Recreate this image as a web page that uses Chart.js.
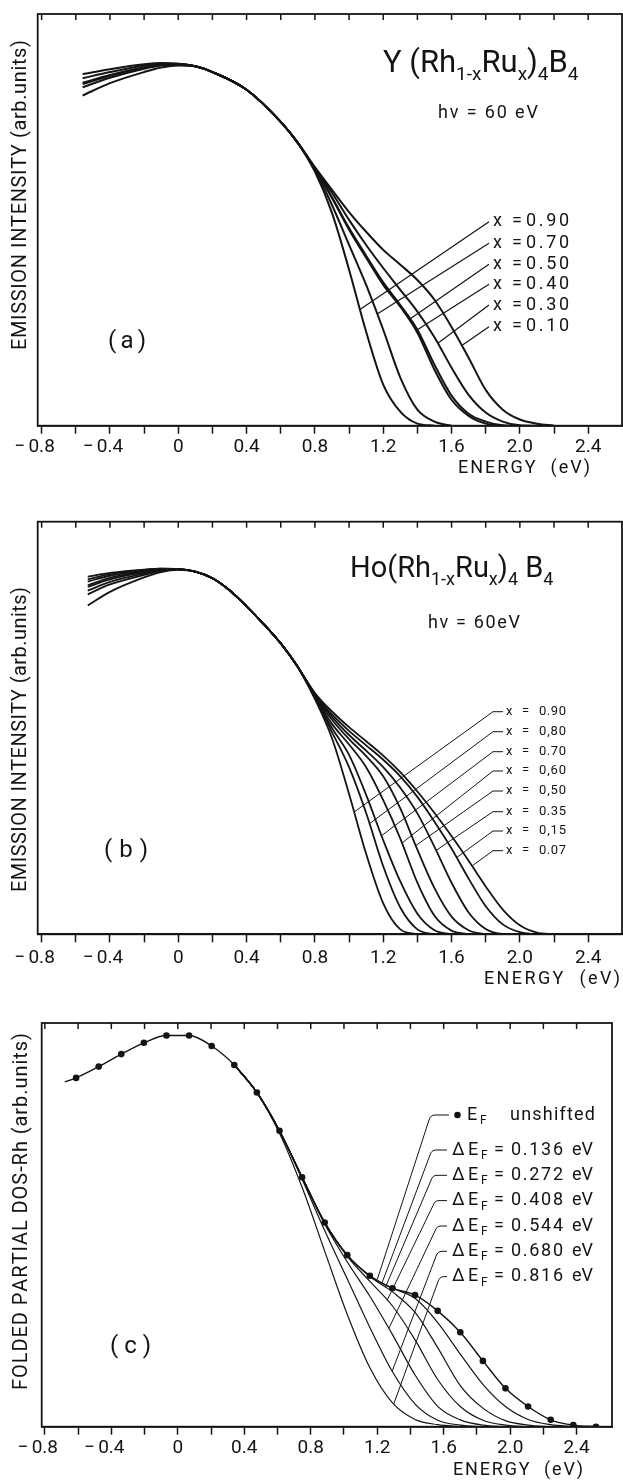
<!DOCTYPE html>
<html>
<head>
<meta charset="utf-8">
<script src="https://cdn.jsdelivr.net/npm/chart.js@4.4.1/dist/chart.umd.min.js"></script>
<style>
  html, body { margin: 0; padding: 0; background: #fff; }
  #wrap { position: relative; width: 623px; height: 1481px; background: #fff; }
  canvas { position: absolute; left: 0; }
</style>
</head>
<body>
<div id="wrap">
  <canvas id="chartA" width="623" height="490" style="top:0px"></canvas>
  <canvas id="chartB" width="623" height="500" style="top:490px"></canvas>
  <canvas id="chartC" width="623" height="491" style="top:990px"></canvas>
</div>
<script>
// ===== Shared axis ticks =====
const energyTicks = [-0.8, -0.6, -0.4, -0.2, 0, 0.2, 0.4, 0.6, 0.8, 1.0, 1.2, 1.4, 1.6, 1.8, 2.0, 2.2, 2.4];
const energyTickLabels = ['\u22120.8', '', '\u22120.4', '', '0', '', '0.4', '', '0.8', '', '1.2', '', '1.6', '', '2.0', '', '2.4'];

// ===== (a) Y(Rh1-xRux)4B4 =====
const energyA = [-0.56, -0.4, -0.2, -0.1, 0, 0.1, 0.2, 0.4, 0.6, 0.7, 0.8, 0.9, 1.0, 1.1, 1.2, 1.3, 1.4, 1.5, 1.6, 1.7, 1.8, 1.9, 2.0, 2.1, 2.2];
const compositionA = ['0.90', '0.70', '0.50', '0.40', '0.30', '0.10'];
const intensityA090 = [85.4, 86.6, 87.8, 88.1, 87.9, 87.3, 85.9, 81.6, 73.8, 68.7, 61.7, 51.7, 37.9, 22.8, 10.0, 3.4, 0.5, 0];
const intensityA070 = [84.4, 85.9, 87.5, 88.0, 87.9, 87.3, 85.9, 81.6, 73.8, 68.7, 62.1, 53.6, 43.9, 34.2, 23.3, 11.7, 3.9, 1.0, 0];
const intensityA050 = [83.3, 85.2, 87.1, 87.8, 87.8, 87.3, 85.9, 81.6, 73.8, 68.7, 62.4, 55.3, 47.6, 40.8, 34.2, 28.9, 22.6, 13.6, 6.3, 2.4, 0.5, 0];
const intensityA040 = [83.0, 85.0, 87.0, 87.7, 87.8, 87.3, 85.9, 81.6, 73.8, 68.7, 62.4, 55.5, 48.0, 41.3, 34.8, 29.3, 23.3, 14.8, 7.3, 2.9, 1.0, 0.1, 0];
const intensityA030 = [82.2, 84.5, 86.7, 87.5, 87.7, 87.3, 85.9, 81.6, 73.8, 68.7, 62.6, 56.6, 50.0, 43.9, 38.3, 33.0, 27.7, 21.5, 14.1, 7.5, 3.2, 1.0, 0.1, 0];
const intensityA010 = [80.2, 83.2, 85.9, 87.0, 87.5, 87.3, 85.9, 81.6, 73.8, 68.7, 62.8, 57.3, 51.9, 47.1, 42.7, 39.1, 35.4, 30.6, 24.0, 16.5, 8.7, 3.9, 1.5, 0.5, 0];
const leaderEnergyA = [1.064, 1.165, 1.35, 1.40, 1.52, 1.66];

// ===== (b) Ho(Rh1-xRux)4B4 =====
const energyB = [-0.53, -0.4, -0.2, -0.1, 0, 0.1, 0.2, 0.3, 0.4, 0.5, 0.6, 0.7, 0.8, 0.9, 1.0, 1.1, 1.2, 1.3, 1.4, 1.5, 1.6, 1.7, 1.8, 1.9, 2.0, 2.1, 2.2];
const compositionB = ['0.90', '0,80', '0.70', '0,60', '0,50', '0.35', '0,15', '0.07'];
const intensityB090 = [86.7, 87.6, 88.4, 88.6, 88.5, 87.9, 86.3, 83.4, 79.5, 75.2, 70.5, 64.8, 57.0, 47.5, 34.0, 19.5, 7.5, 1.2, 0];
const intensityB080 = [86.0, 87.3, 88.3, 88.6, 88.5, 87.9, 86.3, 83.4, 79.5, 75.2, 70.5, 64.8, 57.3, 49.0, 40.5, 29.4, 16.5, 6.5, 1.2, 0];
const intensityB070 = [85.5, 86.9, 88.1, 88.5, 88.5, 87.9, 86.3, 83.4, 79.5, 75.2, 70.5, 64.8, 57.5, 50.0, 43.5, 33.8, 22.8, 12.8, 5.0, 1.0, 0];
const intensityB060 = [84.6, 86.4, 87.9, 88.4, 88.5, 87.9, 86.3, 83.4, 79.5, 75.2, 70.5, 64.8, 57.7, 51.0, 46.0, 40.5, 32.5, 23.2, 12.5, 4.5, 0.9, 0];
const intensityB050 = [84.2, 86.0, 87.7, 88.3, 88.5, 87.9, 86.3, 83.4, 79.5, 75.2, 70.5, 64.8, 57.9, 52.0, 47.3, 43.2, 38.3, 30.5, 20.5, 11.2, 4.3, 1.0, 0];
const intensityB035 = [83.3, 85.4, 87.4, 88.2, 88.5, 87.9, 86.3, 83.4, 79.5, 75.2, 70.5, 64.8, 58.1, 52.7, 48.3, 44.5, 40.5, 35.5, 29.3, 21.2, 12.5, 5.3, 1.3, 0.1, 0];
const intensityB015 = [82.4, 84.8, 87.1, 88.1, 88.4, 87.9, 86.3, 83.4, 79.5, 75.2, 70.5, 64.8, 58.3, 53.3, 49.3, 45.8, 42.3, 38.3, 33.3, 27.3, 20.8, 13.5, 6.8, 2.4, 0.5, 0];
const intensityB007 = [79.7, 83.0, 86.5, 87.8, 88.3, 87.9, 86.3, 83.4, 79.5, 75.2, 70.5, 64.8, 58.5, 54.0, 50.2, 46.8, 43.3, 39.3, 34.6, 29.4, 23.8, 17.8, 11.6, 6.0, 2.2, 0.4, 0];
const leaderEnergyB = [1.03, 1.12, 1.19, 1.31, 1.39, 1.51, 1.63, 1.72];

// ===== (c) folded partial DOS-Rh =====
const energyC = [-0.68, -0.612, -0.476, -0.34, -0.204, -0.068, 0.068, 0.204, 0.34, 0.476, 0.612, 0.748, 0.884, 1.02, 1.156, 1.292, 1.428, 1.564, 1.70, 1.836, 1.972, 2.108, 2.244, 2.38, 2.516];
const dosUnshifted = [85.4, 86.4, 89.2, 92.3, 95.1, 96.9, 96.9, 94.3, 89.6, 82.8, 73.3, 61.8, 50.6, 42.5, 37.4, 34.3, 32.6, 28.7, 23.4, 16.3, 9.5, 5.0, 1.7, 0.4, 0];
const shiftLabels = ['0.136', '0.272', '0.408', '0.544', '0.680', '0.816'];
const dosShift136 = [null, null, null, null, null, null, null, null, 89.6, 82.8, 73.3, 61.8, 50.6, 42.5, 37.4, 34.3, 31.8, 25.8, 18.0, 10.5, 5.0, 1.8, 0.5, 0];
const dosShift272 = [null, null, null, null, null, null, null, null, 89.6, 82.8, 73.3, 61.8, 50.6, 42.5, 37.2, 33.4, 28.3, 19.6, 10.2, 4.6, 1.5, 0.4, 0];
const dosShift408 = [null, null, null, null, null, null, null, null, 89.6, 82.8, 73.3, 61.8, 50.5, 42.2, 36.0, 29.9, 21.5, 11.7, 5.0, 1.6, 0.4, 0];
const dosShift544 = [null, null, null, null, null, null, null, null, 89.6, 82.8, 73.3, 61.7, 50.2, 40.8, 32.3, 22.8, 12.8, 5.05, 1.7, 0.4, 0];
const dosShift680 = [null, null, null, null, null, null, null, null, 89.6, 82.8, 73.2, 61.3, 48.6, 36.6, 24.6, 13.6, 5.6, 1.6, 0.4, 0];
const dosShift816 = [null, null, null, null, null, null, null, null, 89.6, 82.7, 72.7, 59.3, 43.5, 27.8, 14.6, 5.9, 1.8, 0.5, 0];
const leaderEnergyUnshifted = 1.20;
const leaderEnergyC = [1.23, 1.25, 1.26, 1.27, 1.29, 1.30];

const INK = '#141414';
const W = 623;
const FONT = "Roboto, 'DejaVu Sans', sans-serif";

Chart.defaults.font.family = FONT;
Chart.defaults.color = INK;

// ===== Helpers =====
function curvePoints(grid, vals) {
  return vals.map((v, i) => ({ x: grid[i], y: v })).filter(p => p.y !== null);
}

function curveDataset(grid, vals, width, extra) {
  return Object.assign({
    data: curvePoints(grid, vals),
    borderColor: INK,
    borderWidth: width,
    pointRadius: 0,
    cubicInterpolationMode: 'monotone',
    fill: false
  }, extra || {});
}

function valueAt(grid, vals, e) {
  for (let i = 0; i < vals.length - 1; i++) {
    const a = vals[i], b = vals[i + 1];
    if (a === null || b === null) continue;
    if (e >= grid[i] && e <= grid[i + 1]) {
      const t = (e - grid[i]) / (grid[i + 1] - grid[i]);
      return a + t * (b - a);
    }
  }
  return null;
}

function font(size) { return size + 'px ' + FONT; }

// draw text char by char so it fills a given width (typewriter spacing)
function spaced(ctx, text, x, y, width) {
  const chars = [...text];
  const widths = chars.map(c => ctx.measureText(c).width);
  const natural = widths.reduce((s, w) => s + w, 0);
  const gap = width && chars.length > 1 ? (width - natural) / (chars.length - 1) : 0;
  let cx = x;
  chars.forEach((c, i) => { ctx.fillText(c, cx, y); cx += widths[i] + gap; });
}

function rich(ctx, parts, x, baseline) {
  ctx.textBaseline = 'alphabetic';
  let cx = x;
  parts.forEach(p => {
    ctx.font = font(p.s);
    ctx.fillText(p.t, cx, baseline + (p.dy || 0));
    cx += ctx.measureText(p.t).width;
  });
}

function verticalTitle(ctx, text, cx, cy, len, size) {
  ctx.save();
  ctx.translate(cx, cy);
  ctx.rotate(-Math.PI / 2);
  ctx.font = font(size);
  ctx.textBaseline = 'middle';
  spaced(ctx, text, -len / 2, 0, len);
  ctx.restore();
}

function drawFrame(chart, ctx, labelDy) {
  const { left, right, top, bottom } = chart.chartArea;
  const xs = chart.scales.x;
  ctx.strokeStyle = INK;
  ctx.lineWidth = 1.8;
  ctx.strokeRect(left, top, right - left, bottom - top);
  ctx.lineWidth = 1.5;
  energyTicks.forEach(v => {
    const px = xs.getPixelForValue(v);
    ctx.beginPath();
    ctx.moveTo(px, top);
    ctx.lineTo(px, top + 6);
    ctx.stroke();
  });
  // tick labels: number centred on the tick, minus sign set off to the left
  ctx.font = font(19);
  ctx.textBaseline = 'middle';
  const ly = bottom + labelDy;
  energyTicks.forEach((v, i) => {
    const label = energyTickLabels[i];
    if (!label) return;
    const px = xs.getPixelForValue(v);
    const neg = label[0] === '\u2212';
    const num = neg ? label.slice(1) : label;
    const w = ctx.measureText(num).width;
    ctx.textAlign = 'left';
    ctx.fillText(num, px - w / 2, ly);
    if (neg) {
      ctx.textAlign = 'right';
      ctx.fillText('\u2212', px - w / 2 - 3, ly);
    }
  });
  ctx.textAlign = 'left';
}

function curvePixel(chart, grid, vals, e) {
  return [chart.scales.x.getPixelForValue(e), chart.scales.y.getPixelForValue(valueAt(grid, vals, e))];
}

function panelOptions(frame, canvasH) {
  return {
    responsive: false,
    animation: false,
    devicePixelRatio: 1,
    events: [],
    layout: {
      autoPadding: false,
      padding: { left: frame.left, right: W - frame.right, top: frame.top, bottom: canvasH - frame.bottom - 30 }
    },
    plugins: { legend: { display: false }, tooltip: { enabled: false } },
    scales: {
      x: {
        type: 'linear',
        min: frame.min,
        max: frame.max,
        afterBuildTicks: s => { s.ticks = energyTicks.map(v => ({ value: v })); },
        afterFit: s => { s.height = 30; },
        ticks: { display: false, autoSkip: false, maxRotation: 0 },
        grid: { drawOnChartArea: false, drawTicks: true, tickLength: 8, tickWidth: 1.5, tickColor: INK },
        border: { display: true, color: INK, width: 1.8 }
      },
      y: { type: 'linear', display: false, min: 0, max: 100 }
    }
  };
}

function deco(labelDy, draw) {
  return {
    id: 'deco',
    afterDraw(chart) {
      const ctx = chart.ctx;
      ctx.save();
      ctx.fillStyle = INK;
      ctx.strokeStyle = INK;
      ctx.textAlign = 'left';
      drawFrame(chart, ctx, labelDy);
      draw(chart, ctx);
      ctx.restore();
    }
  };
}

// ===== Panel (a) =====
const curvesA = [intensityA090, intensityA070, intensityA050, intensityA040, intensityA030, intensityA010];
const rowsA = [221.7, 243.3, 264.3, 284.3, 305, 326.7];

new Chart(document.getElementById('chartA'), {
  type: 'line',
  data: { datasets: curvesA.map(c => curveDataset(energyA, c, 2)) },
  options: panelOptions({ left: 37.7, right: 622, top: 14, bottom: 425.7, min: -0.823, max: 2.598 }, 490),
  plugins: [deco(21.3, (chart, ctx) => {
    verticalTitle(ctx, 'EMISSION INTENSITY (arb.units)', 21, 195, 310, 20);
    ctx.textBaseline = 'middle';
    ctx.font = font(18);
    spaced(ctx, 'ENERGY  (eV)', 458, 468, 132);
    rich(ctx, [
      { t: 'Y (Rh', s: 31 }, { t: '1-x', s: 19, dy: 8 }, { t: 'Ru', s: 31 }, { t: 'x', s: 19, dy: 8 },
      { t: ')', s: 31 }, { t: '4', s: 19, dy: 8 }, { t: 'B', s: 31 }, { t: '4', s: 19, dy: 8 }
    ], 383, 72);
    ctx.textBaseline = 'middle';
    ctx.font = font(18);
    spaced(ctx, 'h\u03bd = 60 eV', 438, 113, 100);
    ctx.font = font(24);
    spaced(ctx, '(a)', 108, 342, 38);

    ctx.lineWidth = 1.2;
    curvesA.forEach((c, i) => {
      const [px, py] = curvePixel(chart, energyA, c, leaderEnergyA[i]);
      ctx.beginPath();
      ctx.moveTo(px, py);
      ctx.lineTo(489, rowsA[i]);
      ctx.stroke();
      ctx.font = font(18);
      ctx.textBaseline = 'middle';
      ctx.fillText('x', 493, rowsA[i]);
      ctx.fillText('=', 512, rowsA[i]);
      spaced(ctx, compositionA[i], 526, rowsA[i], 43);
    });
  })]
});

// ===== Panel (b) =====
const curvesB = [intensityB090, intensityB080, intensityB070, intensityB060, intensityB050, intensityB035, intensityB015, intensityB007];
const rowsB = [221.7, 241.7, 261.7, 281, 301, 321.7, 341, 360.7];

new Chart(document.getElementById('chartB'), {
  type: 'line',
  data: { datasets: curvesB.map(c => curveDataset(energyB, c, 1.8)) },
  options: panelOptions({ left: 37.7, right: 622, top: 31.7, bottom: 444.3, min: -0.823, max: 2.598 }, 500),
  plugins: [deco(23.7, (chart, ctx) => {
    verticalTitle(ctx, 'EMISSION INTENSITY (arb.units)', 21, 249.5, 305, 20);
    ctx.textBaseline = 'middle';
    ctx.font = font(18);
    spaced(ctx, 'ENERGY  (eV)', 484, 489, 136);
    rich(ctx, [
      { t: 'Ho(Rh', s: 29 }, { t: '1-x', s: 18, dy: 8 }, { t: 'Ru', s: 29 }, { t: 'x', s: 18, dy: 8 },
      { t: ')', s: 29 }, { t: '4', s: 18, dy: 8 }, { t: ' B', s: 29 }, { t: '4', s: 18, dy: 8 }
    ], 350, 86.7);
    ctx.textBaseline = 'middle';
    ctx.font = font(18);
    spaced(ctx, 'h\u03bd = 60eV', 428, 133.5, 92);
    ctx.font = font(24);
    spaced(ctx, '( b )', 104, 361, 44);

    ctx.lineWidth = 1;
    curvesB.forEach((c, i) => {
      const [px, py] = curvePixel(chart, energyB, c, leaderEnergyB[i]);
      ctx.beginPath();
      ctx.moveTo(px, py);
      ctx.lineTo(493, rowsB[i]);
      ctx.lineTo(503, rowsB[i]);
      ctx.stroke();
      ctx.font = font(13);
      ctx.textBaseline = 'middle';
      ctx.fillText('x', 506, rowsB[i]);
      ctx.fillText('=', 522, rowsB[i]);
      spaced(ctx, compositionB[i], 539, rowsB[i], 27);
    });
  })]
});

// ===== Panel (c) =====
const curvesC = [dosShift136, dosShift272, dosShift408, dosShift544, dosShift680, dosShift816];
const rowsC = [160, 185.3, 210.6, 236, 261.3, 286.6];
const cornersC = [430, 431, 433, 435, 436, 438];

function subE(ctx, x, y) {
  ctx.font = font(18);
  ctx.fillText('E', x, y);
  ctx.font = font(12);
  ctx.fillText('F', x + 13, y + 6);
}

new Chart(document.getElementById('chartC'), {
  type: 'line',
  data: {
    datasets: [
      curveDataset(energyC, dosUnshifted, 1.4, {
        pointRadius: energyC.map((e, i) => (i === 0 ? 0 : 3.3)),
        pointBackgroundColor: INK,
        pointBorderWidth: 0
      })
    ].concat(curvesC.map(c => curveDataset(energyC, c, 1.2)))
  },
  options: panelOptions({ left: 41.7, right: 612, top: 33, bottom: 436.7, min: -0.819, max: 2.613 }, 491),
  plugins: [deco(21.3, (chart, ctx) => {
    verticalTitle(ctx, 'FOLDED PARTIAL DOS-Rh (arb.units)', 22, 221.5, 357, 20);
    ctx.textBaseline = 'middle';
    ctx.font = font(18);
    spaced(ctx, 'ENERGY  (eV)', 453, 480, 130);
    ctx.font = font(24);
    spaced(ctx, '(c)', 110, 357, 41);

    ctx.lineWidth = 1;
    // unshifted label
    const [ux, uy] = curvePixel(chart, energyC, dosUnshifted, leaderEnergyUnshifted);
    ctx.beginPath();
    ctx.moveTo(ux, uy);
    ctx.lineTo(429, 125 + 5);
    ctx.quadraticCurveTo(430.5, 125, 435, 125);
    ctx.lineTo(449, 125);
    ctx.stroke();
    ctx.beginPath();
    ctx.arc(457.5, 125, 3.3, 0, Math.PI * 2);
    ctx.fill();
    ctx.textBaseline = 'middle';
    subE(ctx, 467, 125);
    ctx.font = font(18);
    spaced(ctx, 'unshifted', 510, 125, 85);

    curvesC.forEach((c, i) => {
      const [px, py] = curvePixel(chart, energyC, c, leaderEnergyC[i]);
      const ry = rowsC[i], cx = cornersC[i];
      ctx.beginPath();
      ctx.moveTo(px, py);
      ctx.lineTo(cx, ry + 5);
      ctx.quadraticCurveTo(cx + 1.5, ry, cx + 6, ry);
      ctx.lineTo(447, ry);
      ctx.stroke();
      ctx.textBaseline = 'middle';
      ctx.font = font(18);
      ctx.fillText('\u0394', 452, ry);
      subE(ctx, 468, ry);
      ctx.font = font(18);
      ctx.fillText('=', 494, ry);
      spaced(ctx, shiftLabels[i], 511, ry, 52);
      spaced(ctx, 'eV', 572, ry, 21);
    });
  })]
});
</script>
</body>
</html>
